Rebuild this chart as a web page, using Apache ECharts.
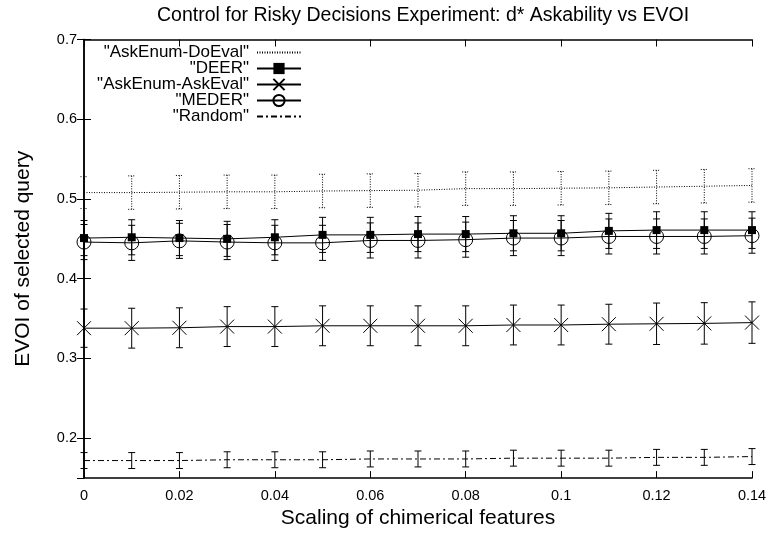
<!DOCTYPE html>
<html><head><meta charset="utf-8">
<script src="https://cdn.jsdelivr.net/npm/echarts@6/dist/echarts.min.js"></script>
<style>html,body{margin:0;padding:0;background:#fff}#c{width:770px;height:534px}</style>
</head><body><div id="c"></div>
<script>
const xs = [0,0.01,0.02,0.03,0.04,0.05,0.06,0.07,0.08,0.09,0.1,0.11,0.12,0.13,0.14];
const xTicks = ['0','0.02','0.04','0.06','0.08','0.1','0.12','0.14'];
const names = ['"AskEnum-DoEval"','"DEER"','"AskEnum-AskEval"','"MEDER"','"Random"'];
const doEval   = [0.508,0.508,0.5085,0.509,0.509,0.510,0.5105,0.511,0.513,0.513,0.5135,0.514,0.515,0.516,0.517];
const doEvalErr= [0.020,0.021,0.021,0.021,0.021,0.021,0.021,0.021,0.021,0.021,0.021,0.021,0.021,0.021,0.021];
const deer     = [0.451,0.452,0.451,0.450,0.452,0.455,0.455,0.456,0.456,0.457,0.457,0.460,0.461,0.461,0.461];
const deerErr  = [0.022,0.022,0.022,0.022,0.022,0.022,0.022,0.022,0.022,0.022,0.022,0.022,0.023,0.023,0.023];
const askEval  = [0.338,0.338,0.3385,0.340,0.340,0.341,0.341,0.341,0.341,0.342,0.342,0.343,0.3435,0.344,0.345];
const askEvalErr=[0.024,0.025,0.025,0.025,0.025,0.025,0.025,0.025,0.025,0.025,0.025,0.025,0.026,0.026,0.026];
const meder    = [0.446,0.445,0.4475,0.446,0.445,0.445,0.448,0.448,0.449,0.451,0.451,0.453,0.453,0.453,0.454];
const mederErr = [0.022,0.022,0.022,0.022,0.022,0.022,0.022,0.022,0.022,0.022,0.022,0.022,0.022,0.022,0.022];
const random   = [0.172,0.172,0.172,0.173,0.173,0.173,0.174,0.174,0.174,0.175,0.175,0.175,0.176,0.176,0.177];
const randomErr= [0.010,0.010,0.010,0.010,0.010,0.010,0.010,0.010,0.010,0.010,0.010,0.010,0.010,0.010,0.010];

const FONT = '"Liberation Sans", Arial, sans-serif';
const DOT = [1,1.5];
const DASHDOT = [6,3,2,3];

function pairs(v){ return xs.map((x,i)=>[x,v[i]]); }
function errs(v,e){ return xs.map((x,i)=>[x,v[i]-e[i],v[i]+e[i]]); }
function errRender(dash){
  return function(params, api){
    const x = api.value(0), lo = api.value(1), hi = api.value(2);
    const a = api.coord([x,hi]), b = api.coord([x,lo]);
    const w = 3.5;
    const st = {stroke:'#000', lineWidth:1, lineDash: dash || null, fill:null};
    return {type:'group', children:[
      {type:'line', shape:{x1:a[0],y1:a[1],x2:b[0],y2:b[1]}, style:st},
      {type:'line', shape:{x1:a[0]-w,y1:a[1],x2:a[0]+w,y2:a[1]}, style:st},
      {type:'line', shape:{x1:b[0]-w,y1:b[1],x2:b[0]+w,y2:b[1]}, style:st}
    ]};
  };
}
function errSeries(name, v, e, dash){
  return {name: name+'_err', type:'custom', renderItem: errRender(dash), data: errs(v,e),
    encode:{x:0,y:[1,2]}, silent:true, z:2};
}
const X_PATH = 'path://M0,0L10,10M10,0L0,10';
const CLEAR = 'rgba(0,0,0,0)';

const series = [
  errSeries('a', doEval, doEvalErr, DOT),
  errSeries('b', deer, deerErr, null),
  errSeries('c', askEval, askEvalErr, null),
  errSeries('d', meder, mederErr, null),
  errSeries('e', random, randomErr, null),
  {name:names[0], type:'line', data:pairs(doEval), symbol:'circle', showSymbol:false, symbolSize:0, z:3,
    lineStyle:{color:'#000', width:1, type:DOT}, itemStyle:{color:CLEAR, borderWidth:0}},
  {name:names[1], type:'line', data:pairs(deer), symbol:'rect', symbolSize:8, z:3,
    lineStyle:{color:'#000', width:1}, itemStyle:{color:'#000'}},
  {name:names[2], type:'line', data:pairs(askEval), symbol:X_PATH, symbolSize:14, z:3,
    lineStyle:{color:'#000', width:1}, itemStyle:{color:'#000', borderColor:'#000', borderWidth:1}},
  {name:names[3], type:'line', data:pairs(meder), symbol:'circle', symbolSize:14, z:3,
    lineStyle:{color:'#000', width:1}, itemStyle:{color:CLEAR, borderColor:'#000', borderWidth:1}},
  {name:names[4], type:'line', data:pairs(random), symbol:'circle', showSymbol:false, symbolSize:0, z:3,
    lineStyle:{color:'#000', width:1, type:DASHDOT}, itemStyle:{color:CLEAR, borderWidth:0}}
];

const legendTops = [39,55,71,87,103];
const legends = names.map((n,i)=>({
  data:[n], right: 463, top: legendTops[i], orient:'vertical', align:'right',
  itemWidth:44, itemHeight:14, selectedMode:false,
  textStyle:{fontFamily:FONT, fontSize:17, color:'#000', padding:[0,3,0,0]}
}));

const axisCommon = {
  axisLine:{show:true, lineStyle:{color:'#000', width:1.5}},
  axisTick:{show:true, inside:true, length:7, lineStyle:{color:'#000', width:1}},
  splitLine:{show:false}
};

const option = {
  animation:false,
  backgroundColor:'#fff',
  title:{text:'Control for Risky Decisions Experiment: d* Askability vs EVOI', left:418, textAlign:'center', top:1,
    textStyle:{fontFamily:FONT, fontSize:19.5, fontWeight:'normal', color:'#000'}},
  legend: legends,
  grid:{left:84, right:18, top:39.5, bottom:49.5, containLabel:false},
  xAxis:[
    Object.assign({type:'value', min:0, max:0.14, interval:0.02, position:'bottom',
      name:'Scaling of chimerical features', nameLocation:'middle', nameGap:28,
      nameTextStyle:{fontFamily:FONT, fontSize:21, color:'#000'},
      axisLabel:{fontFamily:FONT, fontSize:14.5, color:'#000', margin:10,
        formatter:(v)=>{ const i = Math.round(v/0.02); return xTicks[i] !== undefined ? xTicks[i] : ''; }}}, axisCommon),
    Object.assign({type:'value', min:0, max:0.14, interval:0.02, position:'top', axisLabel:{show:false}}, axisCommon)
  ],
  yAxis:[
    Object.assign({type:'value', min:0.15, max:0.7, splitNumber:5, position:'left',
      name:'EVOI of selected query', nameLocation:'middle', nameGap:50,
      nameTextStyle:{fontFamily:FONT, fontSize:21, color:'#000'},
      axisLabel:{fontFamily:FONT, fontSize:14.5, color:'#000', margin:7, showMinLabel:false,
        formatter:(v)=>(Math.round(v*10)/10).toString()}}, axisCommon),
    Object.assign({type:'value', min:0.15, max:0.7, splitNumber:5, position:'right', axisLabel:{show:false}}, axisCommon)
  ],
  series: series
};
const chart = echarts.init(document.getElementById('c'), null, {renderer:'canvas'});
chart.setOption(option);
</script>
</body></html>
